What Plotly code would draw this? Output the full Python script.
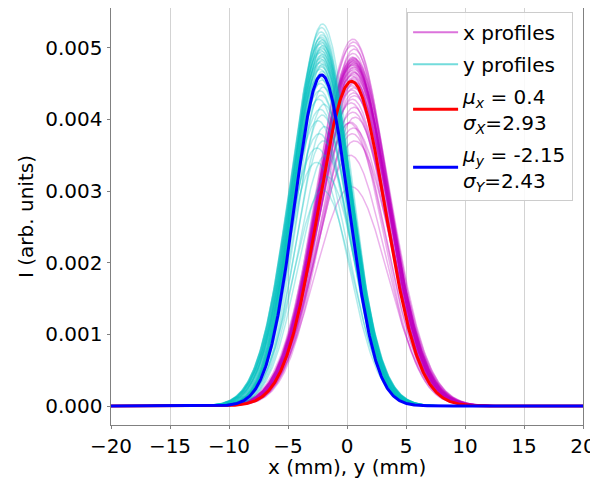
import numpy as np
import plotly.graph_objects as go

# ---- data ----
x_grid = np.linspace(-20, 20, 801)

# individual x profiles (magenta): centre (mm), width (mm), peak (arb.)
xp_centers = [0.50, 0.55, 0.45, 0.60, 0.52,
              0.48, 0.55, 0.50, 0.62, 0.45, 0.58, 0.52, 0.47, 0.60, 0.53,
              0.49, 0.56, 0.44, 0.61, 0.51, 0.57, 0.46, 0.54, 0.63, 0.50,
              0.42, 0.59, 0.53, 0.48, 0.65, 0.51, 0.44, 0.58, 0.40, 0.55,
              0.62, 0.47, 0.35, 0.60, 0.50, 0.70, 0.30, 0.55, 0.45, 0.65,
              0.27, 0.37, 0.20]
xp_sigmas = [2.95, 2.90, 3.02, 2.88, 2.97,
             2.90, 3.05, 2.89, 3.08, 2.93, 2.99, 2.88, 3.04, 2.90, 2.96,
             3.06, 2.89, 3.10, 2.92, 3.00, 2.88, 3.07, 2.90, 2.98, 3.03,
             2.89, 3.12, 2.93, 3.01, 2.88, 3.09, 2.90, 2.97, 3.05, 2.89,
             3.11, 2.92, 2.99, 2.88, 3.06, 2.90, 2.95, 3.04, 2.89, 3.13,
             2.95, 3.05, 2.90]
xp_peaks = [0.00512, 0.00508, 0.00503, 0.00498, 0.00492,
            0.00487, 0.00486, 0.00485, 0.00484, 0.00483, 0.00482, 0.00481, 0.00480, 0.00479, 0.00478,
            0.00477, 0.00476, 0.00475, 0.00473, 0.00472, 0.00470, 0.00468, 0.00466, 0.00465, 0.00463,
            0.00461, 0.00459, 0.00457, 0.00455, 0.00452, 0.00450, 0.00447, 0.00444, 0.00441, 0.00437,
            0.00433, 0.00428, 0.00423, 0.00417, 0.00410, 0.00403, 0.00396, 0.00388, 0.00380, 0.00370,
            0.00350, 0.00306, 0.00395]

# individual y profiles (cyan)
yp_centers = [-2.08, -2.15, -2.20, -2.12,
              -2.18, -2.25, -2.10, -2.22, -2.15, -2.28, -2.05, -2.20, -2.13, -2.24,
              -2.17, -2.30, -2.08, -2.21, -2.14, -2.26, -2.11, -2.19, -2.32, -2.06,
              -2.23, -2.16, -2.29, -2.09, -2.20, -2.35, -2.12, -2.25, -2.02, -2.30,
              -2.18, -2.40, -1.95, -2.27, -2.10, -2.45, -1.90, -2.35, -2.00, -2.55,
              -1.80, -2.60, -2.05, -1.70]
yp_sigmas = [2.42, 2.38, 2.50, 2.36,
             2.44, 2.56, 2.37, 2.47, 2.40, 2.60, 2.36, 2.52, 2.38, 2.55,
             2.41, 2.62, 2.37, 2.49, 2.39, 2.58, 2.36, 2.45, 2.64, 2.38,
             2.53, 2.39, 2.61, 2.37, 2.48, 2.65, 2.38, 2.57, 2.36, 2.63,
             2.43, 2.66, 2.35, 2.59, 2.38, 2.62, 2.34, 2.60, 2.37, 2.64,
             2.40, 2.62, 2.50, 2.45]
yp_peaks = [0.00533, 0.00528, 0.00522, 0.00518,
            0.00515, 0.00513, 0.00511, 0.00509, 0.00507, 0.00505, 0.00503, 0.00501, 0.00499, 0.00497,
            0.00495, 0.00493, 0.00491, 0.00489, 0.00487, 0.00485, 0.00483, 0.00481, 0.00479, 0.00477,
            0.00475, 0.00473, 0.00470, 0.00467, 0.00463, 0.00459, 0.00455, 0.00450, 0.00445, 0.00440,
            0.00434, 0.00428, 0.00421, 0.00414, 0.00406, 0.00398, 0.00390, 0.00380, 0.00370, 0.00360,
            0.00350, 0.00340, 0.00301, 0.00320]

# Gaussian fits (as drawn) and their legend values
fit_x = {"mu": 0.4, "sigma": 2.85, "peak": 0.00453, "label_sigma": 2.93}
fit_y = {"mu": -2.15, "sigma": 2.30, "peak": 0.00462, "label_sigma": 2.43}

x_ticks = [-20, -15, -10, -5, 0, 5, 10, 15, 20]
y_ticks = [0.000, 0.001, 0.002, 0.003, 0.004, 0.005]
x_title = "x (mm), y (mm)"
y_title = "I (arb. units)"


def gauss(mu, sigma, peak):
    return peak * np.exp(-0.5 * ((x_grid - mu) / sigma) ** 2)


FONT = "DejaVu Sans"
FS = 20
fig = go.Figure()

MAG = "rgba(191,0,191,0.3)"
CYA = "rgba(0,191,191,0.3)"

# legend-only entries (line drawn a little stronger, as in the reference legend)
fig.add_trace(go.Scatter(x=[None], y=[None], mode="lines",
                         line=dict(color="rgba(191,0,191,0.55)", width=2),
                         name="x profiles", legendgroup="xp"))
for m, s, p in zip(xp_centers, xp_sigmas, xp_peaks):
    fig.add_trace(go.Scatter(
        x=x_grid, y=gauss(m, s, p), mode="lines",
        line=dict(color=MAG, width=1.5),
        legendgroup="xp", showlegend=False, hoverinfo="skip"))

fig.add_trace(go.Scatter(x=[None], y=[None], mode="lines",
                         line=dict(color="rgba(0,191,191,0.55)", width=2),
                         name="y profiles", legendgroup="yp"))
for m, s, p in zip(yp_centers, yp_sigmas, yp_peaks):
    fig.add_trace(go.Scatter(
        x=x_grid, y=gauss(m, s, p), mode="lines",
        line=dict(color=CYA, width=1.5),
        legendgroup="yp", showlegend=False, hoverinfo="skip"))

fig.add_trace(go.Scatter(
    x=x_grid, y=gauss(fit_x["mu"], fit_x["sigma"], fit_x["peak"]), mode="lines",
    line=dict(color="#ff0000", width=3), legendgroup="fx",
    name=f"<i>μ<sub>x</sub></i> = {fit_x['mu']}<br><i>σ<sub>X</sub></i>={fit_x['label_sigma']}"))

fig.add_trace(go.Scatter(
    x=x_grid, y=gauss(fit_y["mu"], fit_y["sigma"], fit_y["peak"]), mode="lines",
    line=dict(color="#0000ff", width=3), legendgroup="fy",
    name=f"<i>μ<sub>y</sub></i> = {fit_y['mu']}<br><i>σ<sub>Y</sub></i>={fit_y['label_sigma']}"))

# page body has an 8px default margin, so the figure is sized/offset for it
fig.update_layout(
    width=590, height=471,
    margin=dict(l=103, r=15, t=0, b=54),
    paper_bgcolor="white", plot_bgcolor="white",
    font=dict(family=FONT, size=FS, color="black"),
    showlegend=True,
    legend=dict(
        x=0.979, y=0.991, xanchor="right", yanchor="top",
        bgcolor="rgba(255,255,255,0.85)", bordercolor="#cccccc", borderwidth=1,
        font=dict(family=FONT, size=FS), traceorder="grouped", tracegroupgap=3,
        itemwidth=45,
    ),
    annotations=[dict(
        text=x_title, xref="paper", yref="paper", x=0.5, y=-0.1,
        xanchor="center", yanchor="middle", showarrow=False, borderpad=0,
        font=dict(family=FONT, size=FS, color="black"))],
)

fig.update_xaxes(
    range=[-20, 20], tickvals=x_ticks, ticktext=[str(v).replace("-", "−") for v in x_ticks],
    showgrid=True, gridcolor="#d3d3d3", gridwidth=1,
    showline=True, linecolor="#808080", linewidth=1, mirror=True,
    ticks="outside", ticklen=3, tickcolor="#808080",
    zeroline=False,
)
fig.update_yaxes(
    range=[-0.000265, 0.005554], tickvals=y_ticks, ticktext=[f"{v:.3f}" for v in y_ticks],
    showgrid=False,
    showline=True, linecolor="#808080", linewidth=1, mirror=True,
    ticks="outside", ticklen=3.5, tickcolor="#808080",
    zeroline=False,
    title=dict(text=y_title, standoff=6, font=dict(size=FS)),
)

fig.write_html("out.html")
